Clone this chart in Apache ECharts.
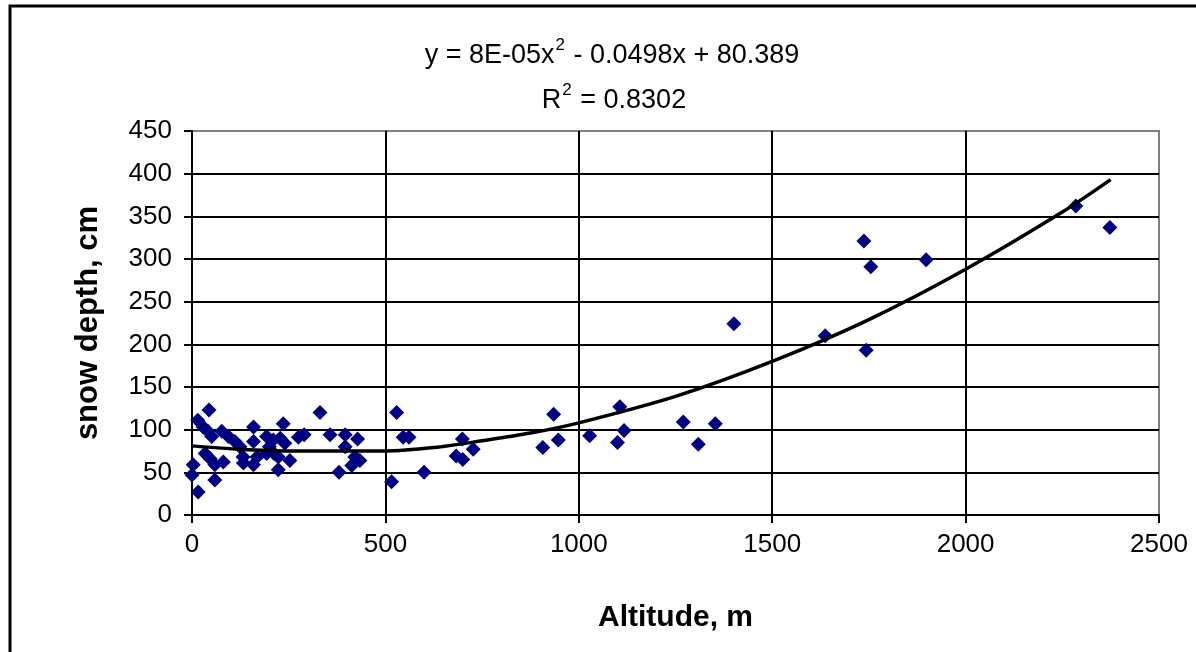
<!DOCTYPE html>
<html>
<head>
<meta charset="utf-8">
<script src="https://cdn.jsdelivr.net/npm/echarts@6/dist/echarts.min.js"></script>
<style>
  html, body { margin: 0; padding: 0; background: #fff; }
  #chart { width: 1196px; height: 652px; }
</style>
</head>
<body>
<div id="chart"></div>
<script>
// measured stations: [altitude m, snow depth cm]
const stations = [
  [0, 47], [3, 59], [16, 27], [15, 111], [29, 103], [41, 98], [44, 123], [51, 92],
  [34, 72], [47, 66], [59, 59], [59, 41], [81, 62], [77, 98], [94, 92], [111, 86],
  [124, 80], [133, 61], [132, 68],
  [159, 103], [159, 86], [159, 59], [168, 68], [193, 92], [193, 72], [200, 80],
  [210, 88], [223, 53], [223, 68], [228, 90], [236, 107], [240, 84], [253, 64], [212, 72],
  [275, 91], [290, 94], [331, 120], [357, 94], [380, 50], [396, 94], [396, 80],
  [413, 58], [421, 68], [428, 89], [434, 64],
  [516, 39], [529, 120], [546, 91], [561, 91], [600, 50], [683, 69], [699, 89],
  [700, 65], [727, 77], [907, 79], [935, 118], [947, 88],
  [1028, 93], [1100, 85], [1106, 127], [1117, 99], [1270, 109], [1309, 83], [1353, 107],
  [1401, 224], [1637, 210], [1737, 321], [1743, 193], [1755, 291], [1898, 299],
  [2285, 362], [2373, 337]
]

// trend line
const trendX = [0, 125, 250, 375, 500, 625, 750, 875, 1000, 1250, 1500, 1750, 2000, 2250, 2375]
const trendY = [81, 77, 75, 75, 75, 79, 87, 96, 108, 139, 180, 229, 288, 355, 393]

const equationRich = '{n|y = 8E-05x}{s|2}{n| - 0.0498x + 80.389}'
const r2Rich = '{n|R}{s|2}{n| = 0.8302}'

const font = "'Liberation Sans', Arial, sans-serif"
const richStyles = {
  n: { fontSize: 27, fontFamily: font, color: '#000', lineHeight: 32, verticalAlign: 'bottom' },
  s: { fontSize: 17, fontFamily: font, color: '#000', lineHeight: 32, verticalAlign: 'top', padding: [0, 1, 0, 1] },
}

const chart = echarts.init(document.getElementById('chart'))

chart.setOption({
  animation: false,
  backgroundColor: '#fff',
  textStyle: { fontFamily: font },
  graphic: [
    {
      type: 'rect',
      shape: { x: 10, y: 6, width: 1220, height: 700 },
      style: { fill: 'none', stroke: '#000', lineWidth: 3 },
      z: 100,
    },
    {
      type: 'text',
      x: 612,
      y: 37,
      style: { text: equationRich, rich: richStyles, align: 'center' },
    },
    {
      type: 'text',
      x: 614,
      y: 82,
      style: { text: r2Rich, rich: richStyles, align: 'center' },
    },
  ],
  grid: {
    left: 192,
    right: 37,
    top: 131,
    bottom: 137,
    show: true,
    borderColor: '#808080',
    borderWidth: 2,
  },
  xAxis: {
    type: 'value',
    min: 0,
    max: 2500,
    interval: 500,
    name: 'Altitude, m',
    nameLocation: 'middle',
    nameGap: 88,
    nameTextStyle: { fontSize: 30, fontWeight: 'bold', color: '#000', fontFamily: font },
    axisLine: { show: true, onZero: false, lineStyle: { color: '#000', width: 2 } },
    axisTick: { show: true, length: 8, lineStyle: { color: '#000', width: 2 } },
    axisLabel: { color: '#000', fontSize: 26, margin: 17, fontFamily: font, formatter: (v) => String(v) },
    splitLine: { show: true, showMaxLine: false, lineStyle: { color: '#000', width: 2 } },
  },
  yAxis: {
    type: 'value',
    min: 0,
    max: 450,
    interval: 50,
    name: 'snow depth, cm',
    nameLocation: 'middle',
    nameGap: 88,
    nameTextStyle: { fontSize: 31, fontWeight: 'bold', color: '#000', fontFamily: font },
    axisLine: { show: true, lineStyle: { color: '#000', width: 2 } },
    axisTick: { show: true, length: 8, lineStyle: { color: '#000', width: 2 } },
    axisLabel: { color: '#000', fontSize: 26, margin: 20, fontFamily: font },
    splitLine: { show: true, showMaxLine: false, lineStyle: { color: '#000', width: 2 } },
  },
  series: [
    {
      name: 'snow depth',
      type: 'scatter',
      data: stations,
      symbol: 'diamond',
      symbolSize: 15,
      itemStyle: { color: '#000080', opacity: 1 },
      z: 2,
    },
    {
      name: 'trend',
      type: 'line',
      data: trendX.map((x, i) => [x, trendY[i]]),
      smooth: 0.3,
      showSymbol: false,
      symbol: 'none',
      lineStyle: { color: '#000', width: 3.5 },
      z: 3,
    },
  ],
})
</script>
</body>
</html>
